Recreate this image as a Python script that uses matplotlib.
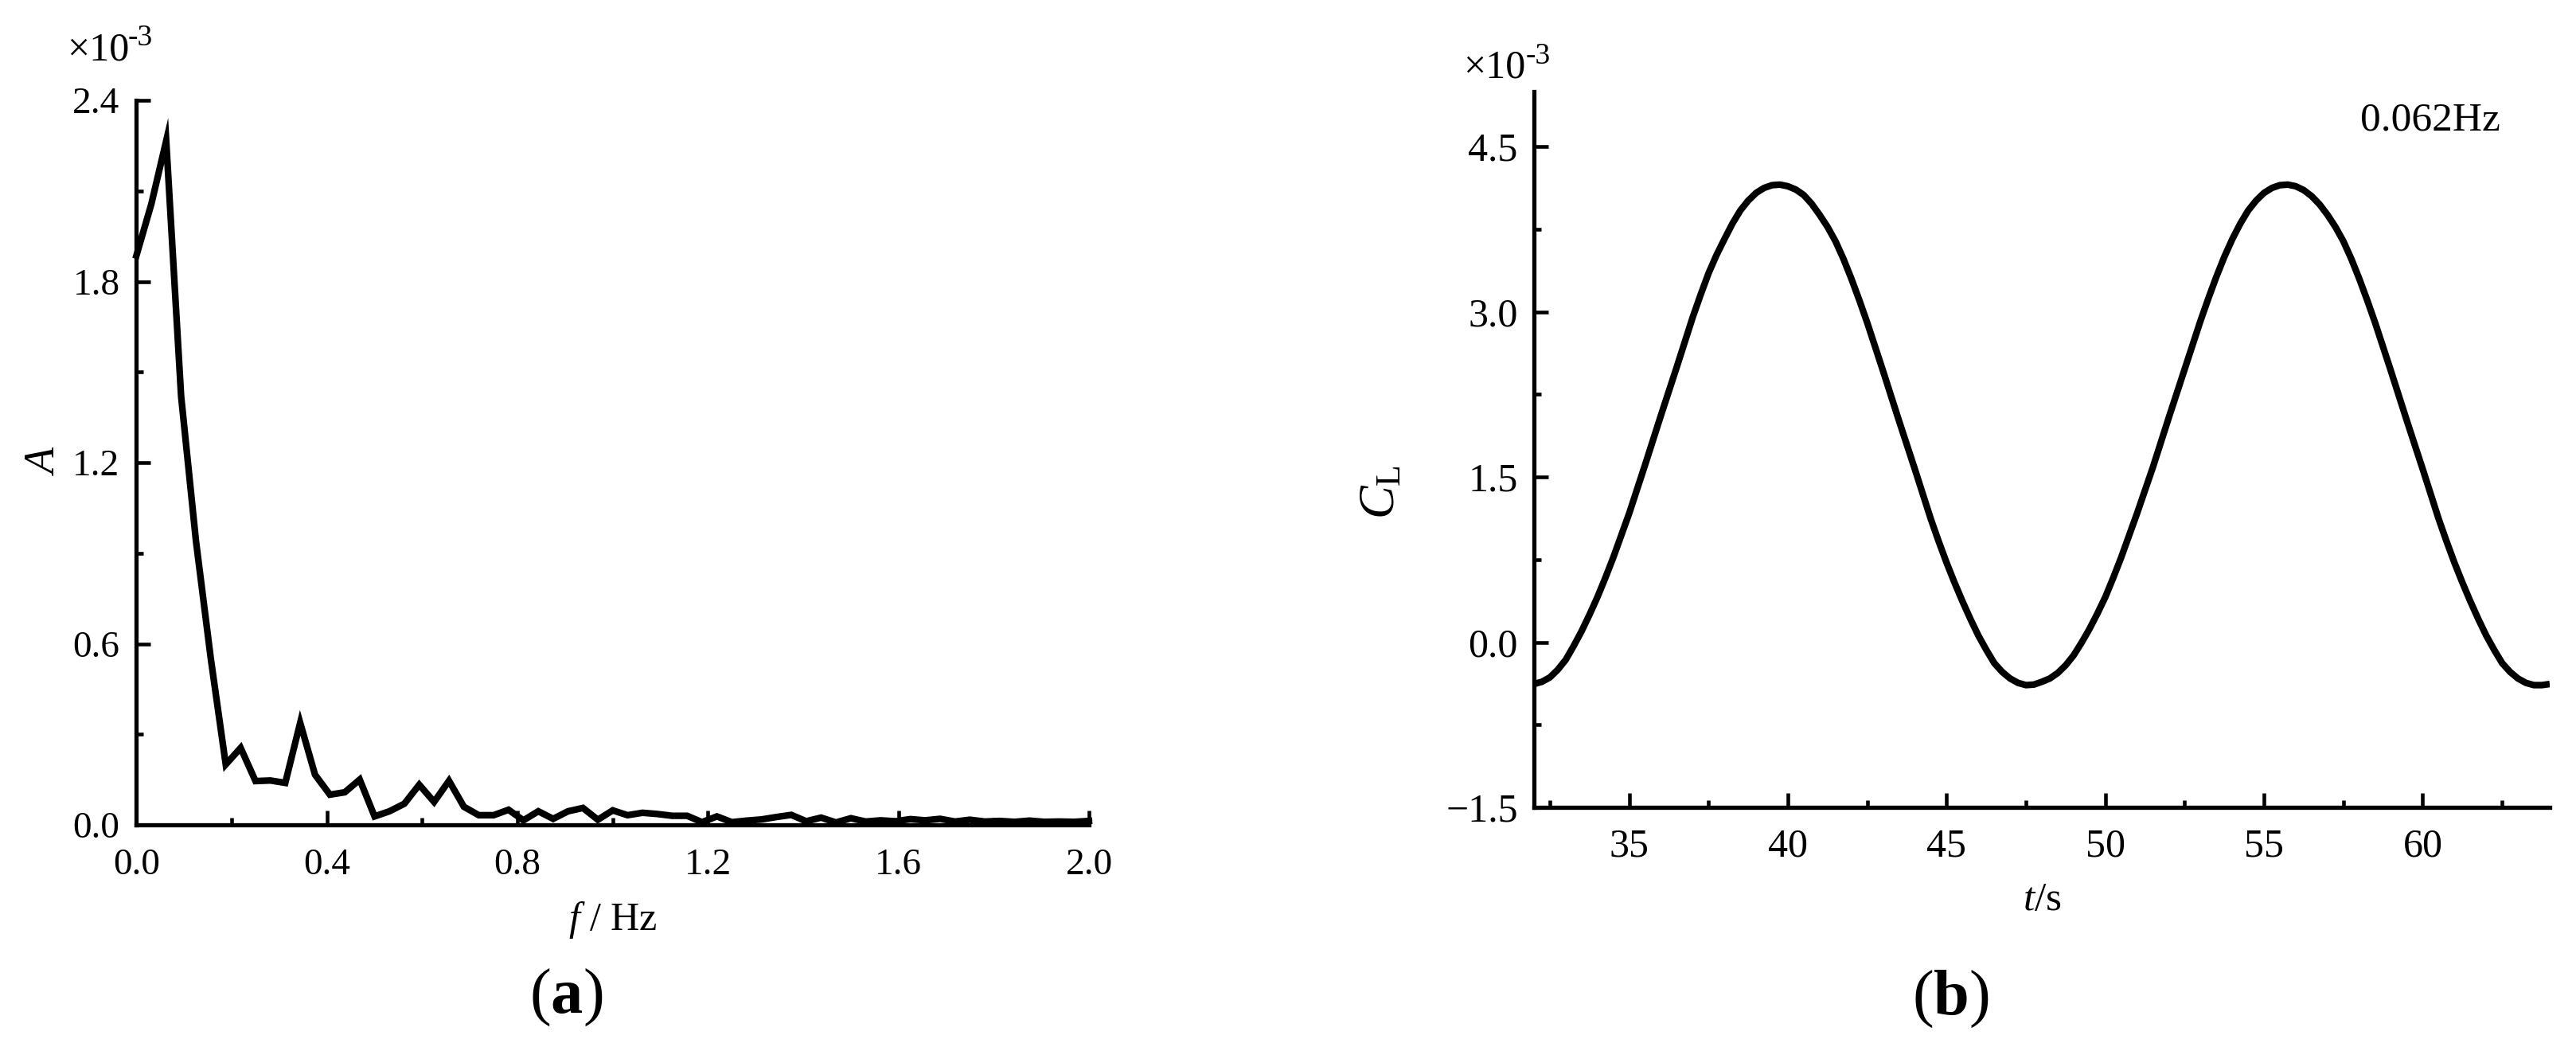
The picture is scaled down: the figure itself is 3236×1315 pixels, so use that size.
import matplotlib
matplotlib.use("Agg")
import matplotlib.pyplot as plt

plt.rcParams['font.family'] = ['Liberation Serif', 'DejaVu Serif']
plt.rcParams['mathtext.fontset'] = 'custom'
plt.rcParams['mathtext.rm'] = 'Liberation Serif'
plt.rcParams['mathtext.it'] = 'Liberation Serif:italic'
plt.rcParams['mathtext.bf'] = 'Liberation Serif:bold'

# ---------------- data (a): amplitude spectrum, A in units of 1e-3 ----------------
freq_hz = [0.0, 0.0312, 0.0625, 0.0938, 0.125, 0.1562, 0.1875, 0.2188, 0.25, 0.2812,
           0.3125, 0.3438, 0.375, 0.4062, 0.4375, 0.4688, 0.5, 0.5312, 0.5625, 0.5938,
           0.625, 0.6562, 0.6875, 0.7188, 0.75, 0.7812, 0.8125, 0.8438, 0.875, 0.9062,
           0.9375, 0.9688, 1.0, 1.0312, 1.0625, 1.0938, 1.125, 1.1562, 1.1875, 1.2188,
           1.25, 1.2812, 1.3125, 1.3438, 1.375, 1.4062, 1.4375, 1.4688, 1.5, 1.5312,
           1.5625, 1.5938, 1.625, 1.6562, 1.6875, 1.7188, 1.75, 1.7812, 1.8125, 1.8438,
           1.875, 1.9062, 1.9375, 1.9688, 2.0]
amp_e3 = [1.886, 2.056, 2.266, 1.42, 0.94, 0.55, 0.20, 0.255, 0.145, 0.147,
          0.139, 0.338, 0.166, 0.100, 0.108, 0.150, 0.028, 0.045, 0.070, 0.133,
          0.076, 0.146, 0.060, 0.032, 0.032, 0.050, 0.015, 0.045, 0.020, 0.045,
          0.056, 0.017, 0.048, 0.032, 0.040, 0.036, 0.030, 0.030, 0.009, 0.028,
          0.009, 0.014, 0.018, 0.026, 0.033, 0.012, 0.024, 0.008, 0.022, 0.011,
          0.015, 0.012, 0.019, 0.015, 0.020, 0.011, 0.017, 0.011, 0.013, 0.010,
          0.014, 0.010, 0.011, 0.010, 0.013]

# ---------------- data (b): lift coefficient time history, C_L in units of 1e-3 ----------------
time_s = [32.0, 32.25, 32.5, 32.75, 33.0, 33.25, 33.5, 33.75, 34.0, 34.25, 34.5, 34.75,
          35.0, 35.25, 35.5, 35.75, 36.0, 36.25, 36.5, 36.75, 37.0, 37.25, 37.5, 37.75,
          38.0, 38.25, 38.5, 38.75, 39.0, 39.25, 39.5, 39.75, 40.0, 40.25, 40.5, 40.75,
          41.0, 41.25, 41.5, 41.75, 42.0, 42.25, 42.5, 42.75, 43.0, 43.25, 43.5, 43.75,
          44.0, 44.25, 44.5, 44.75, 45.0, 45.25, 45.5, 45.75, 46.0, 46.25, 46.5, 46.75,
          47.0, 47.25, 47.5, 47.75, 48.0, 48.25, 48.5, 48.75, 49.0, 49.25, 49.5, 49.75,
          50.0, 50.25, 50.5, 50.75, 51.0, 51.25, 51.5, 51.75, 52.0, 52.25, 52.5, 52.75,
          53.0, 53.25, 53.5, 53.75, 54.0, 54.25, 54.5, 54.75, 55.0, 55.25, 55.5, 55.75,
          56.0, 56.25, 56.5, 56.75, 57.0, 57.25, 57.5, 57.75, 58.0, 58.25, 58.5, 58.75,
          59.0, 59.25, 59.5, 59.75, 60.0, 60.25, 60.5, 60.75, 61.0, 61.25, 61.5, 61.75,
          62.0, 62.25, 62.5, 62.75, 63.0, 63.25, 63.5, 63.75, 64.0]
cl_e3 = [-0.38, -0.36, -0.32, -0.25, -0.16, -0.035, 0.10, 0.25, 0.41, 0.585, 0.77, 0.97,
         1.17, 1.39, 1.61, 1.835, 2.06, 2.28, 2.50, 2.725, 2.95, 3.155, 3.35, 3.515,
         3.66, 3.80, 3.92, 4.01, 4.08, 4.125, 4.15, 4.155, 4.14, 4.11, 4.06, 3.98,
         3.88, 3.77, 3.64, 3.48, 3.30, 3.105, 2.90, 2.68, 2.46, 2.235, 2.01, 1.79,
         1.57, 1.345, 1.12, 0.915, 0.72, 0.54, 0.37, 0.21, 0.06, -0.07, -0.19, -0.27,
         -0.33, -0.37, -0.39, -0.385, -0.36, -0.33, -0.28, -0.21, -0.12, -0.005, 0.12, 0.26,
         0.41, 0.585, 0.77, 0.97, 1.17, 1.38, 1.59, 1.815, 2.04, 2.26, 2.48, 2.70,
         2.92, 3.125, 3.32, 3.50, 3.66, 3.80, 3.92, 4.01, 4.08, 4.125, 4.15, 4.155,
         4.14, 4.105, 4.05, 3.975, 3.88, 3.77, 3.64, 3.48, 3.30, 3.105, 2.90, 2.68,
         2.46, 2.235, 2.01, 1.79, 1.57, 1.345, 1.12, 0.915, 0.72, 0.54, 0.37, 0.21,
         0.06, -0.07, -0.19, -0.27, -0.33, -0.37, -0.39, -0.39, -0.38]

# ---------------- ticks / labels ----------------
a_xticks = [0.0, 0.4, 0.8, 1.2, 1.6, 2.0]
a_xticklabels = ['0.0', '0.4', '0.8', '1.2', '1.6', '2.0']
a_xminor = [0.2, 0.6, 1.0, 1.4, 1.8]
a_yticks = [0.0, 0.6, 1.2, 1.8, 2.4]
a_yticklabels = ['0.0', '0.6', '1.2', '1.8', '2.4']
a_yminor = [0.3, 0.9, 1.5, 2.1]

b_xticks = [35, 40, 45, 50, 55, 60]
b_xticklabels = ['35', '40', '45', '50', '55', '60']
b_xminor = [32.5, 37.5, 42.5, 47.5, 52.5, 57.5, 62.5]
b_yticks = [-1.5, 0.0, 1.5, 3.0, 4.5]
b_yticklabels = ['\u22121.5', '0.0', '1.5', '3.0', '4.5']
b_yminor = [-0.75, 0.75, 2.25, 3.75]

W, H = 3237, 1315
fig = plt.figure(figsize=(W / 100, H / 100), dpi=100)


def fx(px):
    return px / W


def fy(py):
    return 1 - py / H


ax1 = fig.add_axes([fx(171.4), fy(1036), fx(1368 - 171.4), (1036 - 126) / H])
ax2 = fig.add_axes([fx(1927), fy(1014), fx(3203 - 1927), (1014 - 115) / H])

spine_lw = 3.8
for ax in (ax1, ax2):
    ax.spines['top'].set_visible(False)
    ax.spines['right'].set_visible(False)
    for s in ('left', 'bottom'):
        ax.spines[s].set_linewidth(spine_lw)
        ax.spines[s].set_capstyle('projecting')
    ax.patch.set_alpha(0)

# (a)
ax1.plot(freq_hz, amp_e3, color='black', lw=6.0, solid_joinstyle='miter', clip_on=False)
ax1.set_xlim(0, 2.0)
ax1.set_ylim(0, 2.4)
ax1.set_xticks(a_xticks)
ax1.set_xticklabels(a_xticklabels)
ax1.set_xticks(a_xminor, minor=True)
ax1.set_yticks(a_yticks)
ax1.set_yticklabels(a_yticklabels)
ax1.set_yticks(a_yminor, minor=True)
ax1.tick_params(axis='both', which='major', direction='in', length=13, width=3.3, labelsize=34)
ax1.tick_params(axis='both', which='minor', direction='in', length=6.5, width=3.3)
ax1.tick_params(axis='x', which='major', pad=21)
ax1.tick_params(axis='y', which='major', pad=15)

# (b)
ax2.plot(time_s, cl_e3, color='black', lw=6.0, solid_capstyle='butt', solid_joinstyle='round')
ax2.set_xlim(32, 64)
ax2.set_ylim(-1.5, 5.0)
ax2.set_xticks(b_xticks)
ax2.set_xticklabels(b_xticklabels)
ax2.set_xticks(b_xminor, minor=True)
ax2.set_yticks(b_yticks)
ax2.set_yticklabels(b_yticklabels)
ax2.set_yticks(b_yminor, minor=True)
ax2.tick_params(axis='both', which='major', direction='in', length=13, width=3.3, labelsize=36)
ax2.tick_params(axis='both', which='minor', direction='in', length=6.5, width=3.3)
ax2.tick_params(axis='x', which='major', pad=19)
ax2.tick_params(axis='y', which='major', pad=14.5)

# axis labels
fig.text(fx(58), fy(580), 'A', fontsize=39, style='italic', rotation=90,
         ha='center', va='center')
fig.text(fx(770), fy(1168), r'$f$ / Hz', fontsize=36, ha='center', va='baseline')
fig.text(fx(1736), fy(618), r'$C_{\mathrm{L}}$', fontsize=45, rotation=90,
         ha='center', va='center')
fig.text(fx(2565), fy(1143), r'$t$/s', fontsize=37, ha='center', va='baseline')

# scale multipliers
fig.text(fx(84), fy(76), '\u00d710', fontsize=36, ha='left', va='baseline')
fig.text(fx(161), fy(57), '-3', fontsize=27, ha='left', va='baseline')
fig.text(fx(1838), fy(97), '\u00d710', fontsize=36, ha='left', va='baseline')
fig.text(fx(1917), fy(80), '-3', fontsize=27, ha='left', va='baseline')

# annotation
fig.text(fx(2965), fy(164), '0.062Hz', fontsize=37, ha='left', va='baseline')

# panel labels
fig.text(fx(711), fy(1272), r'($\mathbf{a}$)', fontsize=58, ha='center', va='baseline')
fig.text(fx(2450), fy(1274), r'($\mathbf{b}$)', fontsize=58, ha='center', va='baseline')

fig.savefig('out.png', dpi=100)
